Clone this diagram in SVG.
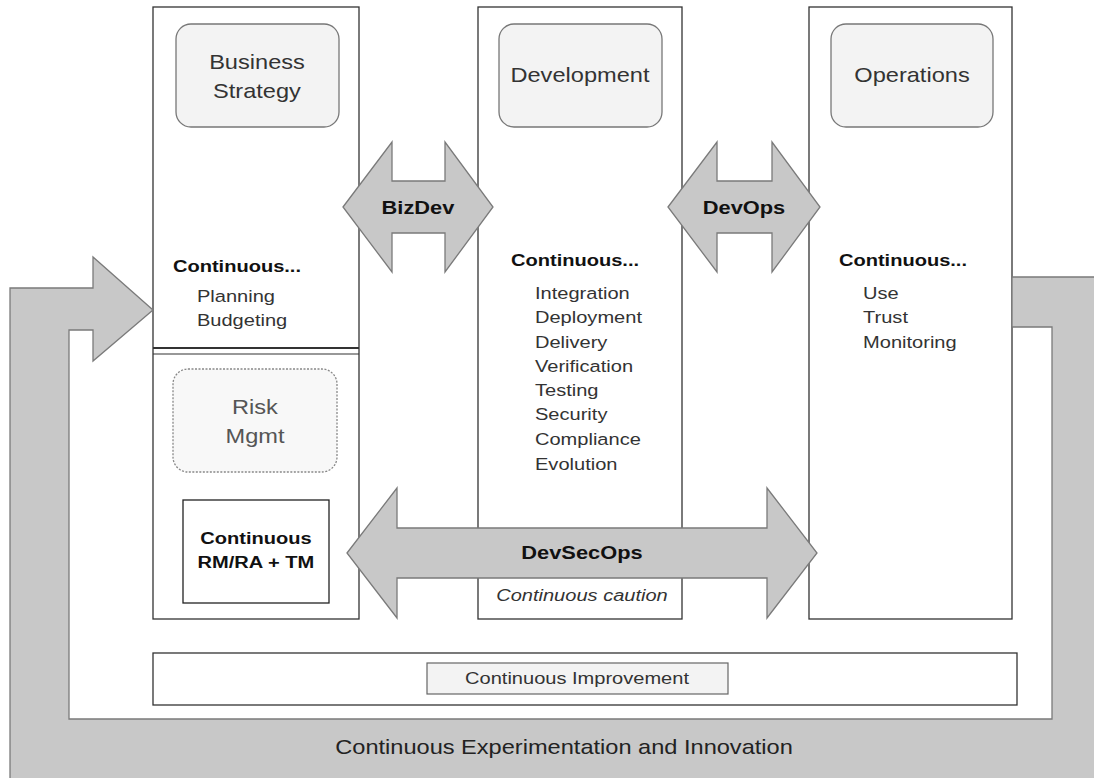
<svg xmlns="http://www.w3.org/2000/svg" width="1094" height="778" viewBox="0 0 1094 778">
<style>
text{font-family:"Liberation Sans",Arial,sans-serif;fill:#333}
.col{fill:#fff;stroke:#333;stroke-width:1.3}
.lbl{fill:#f3f3f3;stroke:#777;stroke-width:1.3}
.arr{fill:#c8c8c8;stroke:#7a7a7a;stroke-width:1.3;stroke-linejoin:miter}
.t20{font-size:20px}
.t17{font-size:17px}
.b{font-weight:bold;fill:#111}
.m{text-anchor:middle}
</style>
<rect width="1094" height="778" fill="#fff"/>
<g id="business">
<rect class="col" x="153" y="7" width="206" height="612"/>
<line x1="153" y1="348" x2="359" y2="348" stroke="#333" stroke-width="2"/>
<line x1="153" y1="354" x2="359" y2="354" stroke="#333" stroke-width="1.2"/>
<rect class="lbl" x="176" y="24" width="163" height="103" rx="15"/>
<text class="t20 m" transform="scale(1.18 1)" x="217.8" y="69">Business</text>
<text class="t20 m" transform="scale(1.18 1)" x="217.8" y="98">Strategy</text>
<text class="t17 b" transform="scale(1.18 1)" x="146.6" y="272">Continuous...</text>
<text class="t17" transform="scale(1.18 1)" x="166.9" y="302">Planning</text>
<text class="t17" transform="scale(1.18 1)" x="166.9" y="326">Budgeting</text>
</g>
<g id="risk">
<rect x="173" y="369" width="164" height="103" rx="15" fill="#f8f8f8" stroke="#888" stroke-width="1.3" stroke-dasharray="2 1.5"/>
<text class="t20 m" transform="scale(1.18 1)" x="216.1" y="414" style="fill:#555">Risk</text>
<text class="t20 m" transform="scale(1.18 1)" x="216.1" y="443" style="fill:#555">Mgmt</text>
</g>
<g id="rmra">
<rect x="183" y="500" width="146" height="103" fill="#fff" stroke="#222" stroke-width="1.3"/>
<text class="t17 b m" transform="scale(1.18 1)" x="216.9" y="544">Continuous</text>
<text class="t17 b m" transform="scale(1.18 1)" x="216.9" y="568">RM/RA + TM</text>
</g>
<g id="development">
<rect class="col" x="478" y="7" width="204" height="612"/>
<rect class="lbl" x="499" y="24" width="163" height="103" rx="15"/>
<text class="t20 m" transform="scale(1.18 1)" x="491.5" y="82">Development</text>
<text class="t17 b" transform="scale(1.18 1)" x="433.1" y="266">Continuous...</text>
<text class="t17" transform="scale(1.18 1)" x="453.4" y="299">Integration</text>
<text class="t17" transform="scale(1.18 1)" x="453.4" y="323">Deployment</text>
<text class="t17" transform="scale(1.18 1)" x="453.4" y="348">Delivery</text>
<text class="t17" transform="scale(1.18 1)" x="453.4" y="372">Verification</text>
<text class="t17" transform="scale(1.18 1)" x="453.4" y="396">Testing</text>
<text class="t17" transform="scale(1.18 1)" x="453.4" y="420">Security</text>
<text class="t17" transform="scale(1.18 1)" x="453.4" y="445">Compliance</text>
<text class="t17" transform="scale(1.18 1)" x="453.4" y="470">Evolution</text>
</g>
<g id="operations">
<rect class="col" x="809" y="7" width="203" height="612"/>
<rect class="lbl" x="831" y="24" width="162" height="103" rx="15"/>
<text class="t20 m" transform="scale(1.18 1)" x="772.9" y="82">Operations</text>
<text class="t17 b" transform="scale(1.18 1)" x="711" y="266">Continuous...</text>
<text class="t17" transform="scale(1.18 1)" x="731.4" y="299">Use</text>
<text class="t17" transform="scale(1.18 1)" x="731.4" y="323">Trust</text>
<text class="t17" transform="scale(1.18 1)" x="731.4" y="348">Monitoring</text>
</g>
<g id="improvement">
<rect x="153" y="653" width="864" height="52" fill="#fff" stroke="#333" stroke-width="1.3"/>
<rect x="427" y="663" width="301" height="31" fill="#f3f3f3" stroke="#666" stroke-width="1.2"/>
<text class="t17 m" transform="scale(1.18 1)" x="489" y="684">Continuous Improvement</text>
</g>
<g id="connectors">
<path id="loop" class="arr" d="M153,310 L93,257 L93,288 L10,288 L10,800 L1110,800 L1110,277 L1012,277 L1012,327 L1052,327 L1052,719 L69,719 L69,330 L93,330 L93,361 Z"/>
<path id="bizdev" class="arr" d="M343,207 L392,142 L392,181 L445,181 L445,142 L493,207 L445,272 L445,233 L392,233 L392,272 Z"/>
<path id="devops" class="arr" d="M668,207 L717,142 L717,181 L772,181 L772,142 L820,207 L772,272 L772,233 L717,233 L717,272 Z"/>
<path id="devsecops" class="arr" d="M347,553 L397,488 L397,528 L767,528 L767,488 L817,553 L767,618 L767,578 L397,578 L397,618 Z"/>
<text class="b m" style="font-size:18.5px" transform="scale(1.18 1)" x="354.2" y="214">BizDev</text>
<text class="b m" style="font-size:18.5px" transform="scale(1.18 1)" x="630.5" y="214">DevOps</text>
<text class="b m" style="font-size:18.5px" transform="scale(1.18 1)" x="493.2" y="559">DevSecOps</text>
<text class="t17 m" style="font-style:italic" transform="scale(1.18 1)" x="493.2" y="601">Continuous caution</text>
<text class="t20 m" style="fill:#222" transform="scale(1.18 1)" x="478" y="754">Continuous Experimentation and Innovation</text>
</g>
</svg>
